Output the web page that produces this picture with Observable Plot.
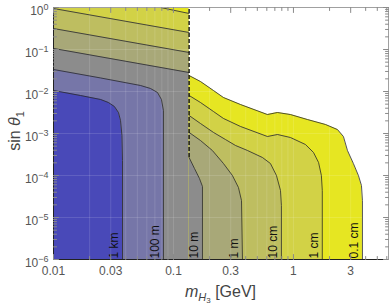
<!DOCTYPE html>
<html>
<head>
<meta charset="utf-8">
<script src="https://cdn.jsdelivr.net/npm/d3@7"></script>
<script src="https://cdn.jsdelivr.net/npm/@observablehq/plot@0.6"></script>
<style>
  html, body { margin: 0; padding: 0; background: #fff; }
  #chart svg { display: block; }
</style>
</head>
<body>
<div id="chart"></div>
<script>
// ---------- axes ----------
const massDomain = [0.01, 6.2];          // m_H3 [GeV]
const sinDomain = [1e-6, 1];             // sin θ1
const pionMass = 0.135;                  // threshold (dashed line)
const massTicks = [0.01, 0.03, 0.1, 0.3, 1, 3];
const massTickLabels = ["0.01", "0.03", "0.1", "0.3", "1", "3"];
const massMinorTicks = [0.02, 0.04, 0.05, 0.06, 0.07, 0.08, 0.09, 0.2, 0.4, 0.5, 0.6, 0.7, 0.8, 0.9, 2, 4, 5, 6];
const sinTicks = [1e-6, 1e-5, 1e-4, 1e-3, 1e-2, 1e-1, 1];
const sinTickExponents = ["−6", "−5", "−4", "−3", "−2", "−1", "0"];
const sinMinorTicks = sinTicks.slice(0, -1).flatMap(d => [2, 3, 4, 5, 6, 7, 8, 9].map(k => k * d));

// ---------- band colours (decay length) ----------
const bandNames  = ["> 1 km", "100 m–1 km", "10–100 m", "1–10 m", "10 cm–1 m", "1–10 cm", "0.1–1 cm"];
const bandColors = ["#4949b8", "#7676a8", "#8c8c8c", "#a8a878", "#bebe60", "#d2d246", "#e6e622"];

// ---------- contours below the threshold (m < m_pi) ----------
const oneCmLeftMass = [0.078, 0.135];
const oneCmLeftSin  = [1, 0.72];
const tenCmLeftMass = [0.01, 0.135];
const tenCmLeftSin  = [0.947, 0.254];
const oneMLeftMass  = [0.01, 0.135];
const oneMLeftSin   = [0.316, 0.0849];
const tenMLeftMass  = [0.01, 0.135];
const tenMLeftSin   = [0.106, 0.0283];
const hundredMLeftMass = [0.01, 0.0247, 0.0531, 0.0643, 0.0736, 0.0794, 0.0825, 0.0825];
const hundredMLeftSin  = [0.0334, 0.0210, 0.0139, 0.0118, 0.00946, 0.00645, 0.00353, 1e-6];
const oneKmLeftMass = [0.01, 0.0168, 0.0247, 0.0287, 0.0322, 0.0348, 0.0362, 0.0372, 0.0376, 0.0376];
const oneKmLeftSin  = [0.01056, 0.00803, 0.00645, 0.00547, 0.00439, 0.00316, 0.00204, 0.000896, 0.000228, 1e-6];

// ---------- contours above the threshold (m > m_pi) ----------
const tenthCmRightMass = [0.135, 0.168, 0.2155, 0.261, 0.362, 0.607, 0.736, 0.944, 1.31, 1.85, 2.33, 2.61, 2.82, 3.16, 3.48, 3.69, 3.76, 3.76];
const tenthCmRightSin  = [0.0240, 0.0173, 0.01056, 0.0072, 0.0049, 0.00283, 0.00316, 0.00283, 0.00215, 0.00164, 0.00124, 0.000848, 0.000394, 0.000193, 0.0001, 0.0000578, 0.0000254, 1e-6];
const oneCmRightMass = [0.135, 0.168, 0.2155, 0.261, 0.362, 0.607, 0.736, 0.944, 1.26, 1.47, 1.62, 1.71, 1.74, 1.74];
const oneCmRightSin  = [0.00803, 0.00547, 0.00334, 0.00228, 0.00147, 0.000848, 0.000946, 0.000803, 0.000547, 0.000353, 0.000204, 0.0001, 0.000044, 1e-6];
const tenCmRightMass = [0.135, 0.168, 0.2155, 0.271, 0.329, 0.414, 0.552, 0.643, 0.722, 0.780, 0.794, 0.794];
const tenCmRightSin  = [0.00268, 0.00173, 0.00106, 0.00072, 0.000518, 0.000394, 0.000268, 0.000193, 0.0001, 0.000044, 0.0000193, 1e-6];
const oneMRightMass = [0.135, 0.168, 0.211, 0.261, 0.310, 0.348, 0.369, 0.376];
const oneMRightSin  = [0.00106, 0.000681, 0.000394, 0.000193, 0.0001, 0.0000518, 0.0000254, 1e-6];
const tenMRightMass = [0.135, 0.1496, 0.1647, 0.1745, 0.1745];
const tenMRightSin  = [0.000268, 0.000147, 0.0000849, 0.0000547, 1e-6];

// ---------- contour labels ----------
const contourLabels = ["1 km", "100 m", "10 m", "1 m", "10 cm", "1 cm", "0.1 cm"];
const contourLabelMass = [0.0376, 0.0825, 0.1745, 0.376, 0.794, 1.74, 3.76];

// ---------- build ----------
const pts = (ms, ss) => ms.map((m, i) => ({m, s: ss[i]}));
const bottom = () => sinDomain[0];
const band = (data, fill) => Plot.areaY(data, {x: "m", y1: bottom, y2: "s", fill});
const contour = (data) => Plot.line(data, {x: "m", y: "s", stroke: "#2a2a2a", strokeWidth: 0.9, strokeOpacity: 0.9});

const leftBase = pts([massDomain[0], pionMass], [sinDomain[1], sinDomain[1]]);
const oneCmLeft = pts(oneCmLeftMass, oneCmLeftSin);
const oneCmLeftFill = [{m: massDomain[0], s: sinDomain[1]}, ...oneCmLeft];
const tenCmLeft = pts(tenCmLeftMass, tenCmLeftSin);
const oneMLeft = pts(oneMLeftMass, oneMLeftSin);
const tenMLeft = pts(tenMLeftMass, tenMLeftSin);
const hundredMLeft = pts(hundredMLeftMass, hundredMLeftSin);
const oneKmLeft = pts(oneKmLeftMass, oneKmLeftSin);
const tenthCmRight = pts(tenthCmRightMass, tenthCmRightSin);
const oneCmRight = pts(oneCmRightMass, oneCmRightSin);
const tenCmRight = pts(tenCmRightMass, tenCmRightSin);
const oneMRight = pts(oneMRightMass, oneMRightSin);
const tenMRight = pts(tenMRightMass, tenMRightSin);
const labelData = contourLabels.map((label, i) => ({label, m: contourLabelMass[i]}));

const tickShape = {draw(context, l) { context.moveTo(0, 0); context.lineTo(0, -l); }};
const ticks = (data, x, y, rotate, length) =>
  Plot.vector(data, {x, y, rotate, length, anchor: "start", shape: tickShape, stroke: "#8a8a8a", strokeWidth: 1});

const chart = Plot.plot({
  width: 390,
  height: 307,
  marginLeft: 53,
  marginRight: 2,
  marginTop: 7,
  marginBottom: 48,
  style: {fontFamily: "'Liberation Sans', Arial, sans-serif", fontSize: "12px", color: "#555", background: "#fff"},
  x: {type: "log", domain: massDomain, ticks: massTicks, tickFormat: d => massTickLabels[massTicks.indexOf(d)], tickSize: 0, tickPadding: 7, label: null},
  y: {type: "log", domain: sinDomain, ticks: sinTicks, tickFormat: d => "10^" + sinTickExponents[sinTicks.indexOf(d)], tickSize: 0, tickPadding: 5, label: null},
  marks: [
    // below threshold: painter's order from shortest to longest decay length
    band(leftBase, bandColors[6]),
    band(oneCmLeftFill, bandColors[5]),
    band(tenCmLeft, bandColors[4]),
    band(oneMLeft, bandColors[3]),
    band(tenMLeft, bandColors[2]),
    band(hundredMLeft, bandColors[1]),
    band(oneKmLeft, bandColors[0]),
    // above threshold
    band(tenthCmRight, bandColors[6]),
    band(oneCmRight, bandColors[5]),
    band(tenCmRight, bandColors[4]),
    band(oneMRight, bandColors[3]),
    band(tenMRight, bandColors[2]),
    // faint grid
    Plot.ruleX([...massTicks, ...massMinorTicks].filter(d => d > massDomain[0] && d < massDomain[1]), {stroke: "#fff", strokeOpacity: 0.13}),
    Plot.ruleY(sinTicks.slice(1, -1), {stroke: "#fff", strokeOpacity: 0.13}),
    // contour lines
    contour(oneCmLeft), contour(tenCmLeft), contour(oneMLeft), contour(tenMLeft),
    contour(hundredMLeft), contour(oneKmLeft),
    contour(tenthCmRight), contour(oneCmRight), contour(tenCmRight), contour(oneMRight), contour(tenMRight),
    // threshold discontinuity
    Plot.ruleX([pionMass], {y1: tenMRightSin[0], y2: sinDomain[1], stroke: "#111", strokeWidth: 1.4, strokeDasharray: "4,2"}),
    // contour labels
    Plot.text(labelData, {x: "m", y: bottom, text: "label", rotate: -90, textAnchor: "start", dx: -8, dy: -1, fontSize: 12, fill: "#111"}),
    // frame
    Plot.ruleY([sinDomain[1]], {stroke: "#a0a0a0"}),
    Plot.ruleX([massDomain[1]], {stroke: "#a0a0a0"}),
    Plot.ruleX([massDomain[0]], {stroke: "#222"}),
    Plot.ruleY([sinDomain[0]], {stroke: "#222"}),
    // inward ticks on all four sides
    ticks(massTicks, d => d, () => sinDomain[0], 0, 5),
    ticks(massMinorTicks, d => d, () => sinDomain[0], 0, 3),
    ticks(massTicks, d => d, () => sinDomain[1], 180, 5),
    ticks(massMinorTicks, d => d, () => sinDomain[1], 180, 3),
    ticks(sinTicks, () => massDomain[0], d => d, 90, 5),
    ticks(sinMinorTicks, () => massDomain[0], d => d, 90, 3),
    ticks(sinTicks, () => massDomain[1], d => d, -90, 5),
    ticks(sinMinorTicks, () => massDomain[1], d => d, -90, 3)
  ]
});

document.getElementById("chart").appendChild(chart);

// superscript exponents on y tick labels
const svg = d3.select(chart);
svg.selectAll('g[aria-label="y-axis tick label"] text').each(function () {
  const t = d3.select(this);
  const [base, exp] = t.text().split("^");
  t.text(base).attr("dy", "0.34em");
  t.append("tspan").attr("dy", "-0.55em").attr("font-size", "9px").text(exp);
});

// axis titles
const xr = chart.scale("x").range, yr = chart.scale("y").range;
const xt = svg.append("text")
  .attr("x", (xr[0] + xr[1]) / 2).attr("y", 297)
  .attr("text-anchor", "middle").attr("font-size", 16).attr("fill", "#444");
xt.append("tspan").attr("font-style", "italic").text("m");
xt.append("tspan").attr("font-style", "italic").attr("font-size", 11).attr("dy", 4).text("H");
xt.append("tspan").attr("font-size", 8).attr("dy", 2).text("3");
xt.append("tspan").attr("dy", -6).text(" [GeV]");

const yt = svg.append("text")
  .attr("transform", `translate(20,${(yr[0] + yr[1]) / 2 - 2}) rotate(-90)`)
  .attr("text-anchor", "middle").attr("font-size", 16).attr("fill", "#444");
yt.append("tspan").text("sin ");
yt.append("tspan").attr("font-style", "italic").text("θ");
yt.append("tspan").attr("font-size", 11).attr("dy", 4).text("1");
</script>
</body>
</html>
